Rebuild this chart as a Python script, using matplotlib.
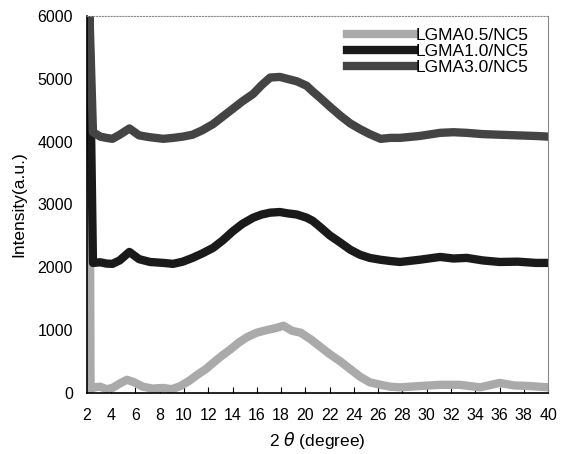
import matplotlib
matplotlib.use("Agg")
import matplotlib.pyplot as plt

plt.rcParams["font.family"] = ["Liberation Sans", "DejaVu Sans"]

# 2-theta positions (degree)
two_theta_05 = [2.2, 2.3, 2.6, 3.1, 3.6, 4.1, 4.7, 5.3, 5.9, 6.6, 7.4, 8.3, 9.0, 9.7,
                10.4, 11.1, 11.8, 12.4, 13.1, 13.8, 14.5, 15.2, 16.0, 16.8, 17.5,
                18.2, 18.9, 19.6, 20.4, 21.2, 22.0, 22.9, 23.7, 24.5, 25.3, 26.2,
                27.0, 27.8, 29.4, 31.1, 32.7, 34.4, 36.0, 37.2, 38.5, 40.0]
lgma05 = [6100, 60, 90, 100, 60, 80, 150, 210, 170, 100, 70, 80, 60, 110,
          190, 290, 380, 480, 590, 690, 800, 890, 960, 1000, 1030,
          1070, 990, 960, 860, 740, 620, 500, 380, 260, 170, 130,
          100, 90, 110, 130, 130, 90, 160, 120, 110, 90]

two_theta = [2.2, 2.5, 3.1, 3.6, 4.1, 4.7, 5.5, 6.3, 7.2, 8.3, 9.1, 9.9, 10.7,
             11.5, 12.4, 13.2, 14.0, 14.8, 15.7, 16.4, 17.1, 17.9, 18.5, 19.3,
             20.1, 20.6, 21.2, 22.0, 22.9, 23.7, 24.5, 25.3, 26.2, 27.0, 27.8,
             29.4, 31.1, 32.2, 33.3, 34.6, 36.0, 37.5, 39.0, 40.0]
lgma10 = [6100, 2070, 2080, 2060, 2055, 2110, 2245, 2130, 2085, 2070, 2055, 2090, 2150,
          2220, 2310, 2430, 2570, 2690, 2790, 2840, 2870, 2880, 2860, 2840,
          2790, 2740, 2645, 2510, 2390, 2280, 2200, 2150, 2120, 2100, 2085,
          2120, 2165, 2140, 2150, 2110, 2085, 2090, 2070, 2070]
lgma30 = [6100, 4150, 4080, 4060, 4045, 4110, 4210, 4100, 4070, 4045, 4060, 4080, 4110,
          4180, 4280, 4400, 4520, 4640, 4760, 4900, 5020, 5030, 5000, 4960,
          4890, 4800, 4700, 4560, 4410, 4290, 4200, 4120, 4045, 4060, 4060,
          4090, 4140, 4150, 4140, 4120, 4110, 4100, 4090, 4080]

fig = plt.figure(figsize=(5.68, 4.54), dpi=100)
ax = fig.add_axes([0.153, 0.1344, 0.812, 0.8304])

ax.plot(two_theta_05, lgma05, color="#aaaaaa", lw=6, label="LGMA0.5/NC5")
ax.plot(two_theta, lgma10, color="#1a1a1a", lw=6, label="LGMA1.0/NC5")
ax.plot(two_theta, lgma30, color="#444444", lw=6, label="LGMA3.0/NC5")

ax.set_xlim(2, 40)
ax.set_ylim(0, 6000)
ax.set_xticks(range(2, 41, 2))
ax.set_yticks(range(0, 6001, 1000))
ax.tick_params(axis="x", direction="in", length=4, labelsize=11.5, pad=11)
ax.tick_params(axis="y", length=0, labelsize=11.5, pad=10)

ax.spines["left"].set_linewidth(1.2)
ax.spines["bottom"].set_linewidth(1.2)
for side in ("top", "right"):
    ax.spines[side].set_color("#888888")
    ax.spines[side].set_linewidth(0.8)
ax.spines["top"].set_linestyle(":")

ax.set_xlabel("2 $\\theta$ (degree)", fontsize=12.5, labelpad=5)
ax.set_ylabel("Intensity(a.u.)", fontsize=12.5, labelpad=8)

ax.legend(loc="upper right", frameon=False, fontsize=12.5, handlelength=3.9,
          handletextpad=0.1, labelspacing=0.05, borderaxespad=0.3,
          bbox_to_anchor=(0.985, 1.0))

fig.savefig("out.png", dpi=100)
